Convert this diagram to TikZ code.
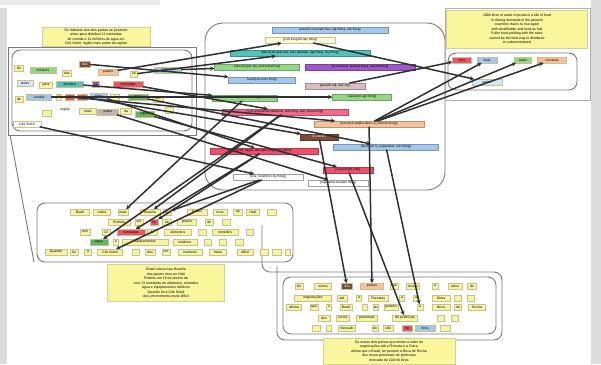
\documentclass[tikz,border=0pt]{standalone}
\usepackage{fontspec}
\setmainfont{Liberation Sans}
\usetikzlibrary{arrows.meta}
\definecolor{wyel}{HTML}{F6F4A0}
\definecolor{wbd}{HTML}{C9C38A}
\definecolor{wgrn}{HTML}{93D985}
\definecolor{wdgr}{HTML}{5CB85C}
\definecolor{wbrn}{HTML}{7B4B35}
\definecolor{worn}{HTML}{F7C29A}
\definecolor{wblu}{HTML}{A2C8F0}
\definecolor{wlbl}{HTML}{D4E8F8}
\definecolor{wtea}{HTML}{52C2BA}
\definecolor{wpur}{HTML}{A057C8}
\definecolor{wred}{HTML}{EE5068}
\definecolor{wpnk}{HTML}{F26A86}
\definecolor{wgry}{HTML}{C7B2B2}
\definecolor{wpgr}{HTML}{D8BEBE}
\definecolor{notey}{HTML}{F9F69C}
\definecolor{notebd}{HTML}{D2CF98}
\definecolor{frm}{HTML}{7A7A7A}
\definecolor{lnk}{HTML}{303030}
\definecolor{side}{HTML}{DCDCDC}
\newcommand\wf{\fontsize{3.4}{4}\selectfont}
\newcommand\cf{\fontsize{3.2}{4}\selectfont}
\newcommand\nf{\fontsize{3.5}{4.5}\selectfont}
\begin{document}
\begin{tikzpicture}[x=1pt,y=-1pt,
  wb/.style={rectangle, draw=wbd, fill=#1, line width=0.3pt, inner sep=0.3pt, minimum height=5.5pt, font=\wf, text=black},
  cn/.style={rectangle, draw=#1!75!black, fill=#1, line width=0.3pt, inner sep=0.4pt, minimum height=5.8pt, font=\cf, text=black},
  note/.style={rectangle, draw=notebd, fill=notey, line width=0.4pt, inner sep=1pt, font=\nf, align=center},
  frame/.style={draw=frm, line width=0.9pt},
  ar/.style={draw=lnk, line width=1.5pt, line cap=round, -{Stealth[length=4.2pt,width=4.2pt]}}]
\path[use as bounding box] (0,0) rectangle (601,364);
\fill[white] (0,0) rectangle (601,364);
\fill[side] (0,8) rectangle (7,364);
\fill[side] (591,0) rectangle (601,364);
\fill[side!60] (0,0) rectangle (160,5);

% frames
\draw[frame] (8,47) rectangle (196,135);
\draw[frame, rounded corners=8] (12,50) rectangle (192,131);
\draw[frame] (10,135) -- (34,262);
\draw[frame, rounded corners=8] (37,203) rectangle (293,262);
\draw[frame, rounded corners=8] (262,225) -- (262,272) -- (502,272) -- (502,340) -- (277,340) -- (277,266);
\draw[frame, rounded corners=8] (283,277) rectangle (496,334);
\draw[frame, rounded corners=18] (205,23) rectangle (445,190);
\draw[frame, draw=frm!60] (445,8) rectangle (590,100);
\draw[frame, rounded corners=8] (448,53) rectangle (577,90);

% notes
\node[note, minimum width=108pt, minimum height=18pt] (TLnote) at (96,37)
  {Os militares dos dois países se juntaram\\antes para distribuir 11 toneladas\\de comida e 11 mil litros de água em\\Cité Soleil, região mais pobre da capital};
\node[note, minimum width=141pt, minimum height=38pt] (RTnote) at (517,29)
  {1000 litres of water to produce a kilo of food\\in driving demands in the present\\countries that is to rise again\\with smallholder and food as fuel\\Fuller food yielding with the rates\\cannot be the best way to distribute\\to subconstrained};
\node[note, minimum width=117pt, minimum height=37pt] (BMnote) at (166,283)
  {Brasil cobra mais Brasília\\dos países ricos ao Haiti\\Prefeito em 15 de janeiro de\\com 13 toneladas de alimentos, remédios\\água e equipamentos médicos\\Quando foi a Cité Soleil\\dos um momento muito difícil};
\node[note, minimum width=132pt, minimum height=26pt] (BRnote) at (389,351)
  {Os outros dois países que teriam a salvo do\\negociações até a Floresta e a Outra\\afirma que o Brasil, ter porteiro a Brica de Rocha\\dos novos potenciais de potências\\mercado do 100 mil litros};

% left group words
\node[wb=wyel, minimum width=9pt] (LOs) at (19,68) {Os};
\node[wb=wgrn, minimum width=26pt] (Lmilitares) at (43,70) {militares};
\node[wb=wbrn, minimum width=11pt, text=white] (Ldos) at (85,64) {dos};
\node[wb=wyel, minimum width=9pt] (Ldois) at (67,73) {dois};
\node[wb=worn, minimum width=20pt] (Lpaises) at (108,72) {países};
\node[wb=wyel, minimum width=7pt] (Lse) at (134,74) {se};
\node[wb=wblu, minimum width=27pt] (Ljuntaram) at (168,70) {juntaram};
\node[wb=wlbl, minimum width=16pt] (Lantes) at (25,83) {antes};
\node[wb=wyel, minimum width=13pt] (Lpara) at (46,85) {para};
\node[wb=wtea, minimum width=27pt] (Ldistribuir) at (70,84) {distribuir};
\node[wb=wpur, minimum width=7pt] (Lonze) at (96,84) {11};
\node[wb=wred, minimum width=30pt] (Ltoneladas) at (128,84) {toneladas};
\node[wb=wyel, minimum width=8pt] (Lde) at (19,99) {de};
\node[wb=wblu, minimum width=25pt] (Lcomida) at (39,97) {comida};
\node[wb=wyel, minimum width=5pt] (Le) at (59,97) {e};
\node[wb=wred, minimum width=9pt] (Lonzeb) at (70,97) {11};
\node[wb=wred, minimum width=10pt] (Lmil) at (82,97) {mil};
\node[wb=wblu, minimum width=17pt] (Llitros) at (99,96) {litros};
\node[wb=wyel, minimum width=9pt] (Ldeb) at (115,97) {de};
\node[wb=wdgr, minimum width=20pt] (Lagua) at (138,97) {água};
\node[wb=wyel, minimum width=10pt] (Lem) at (158,99) {em};
\node[wb=wyel, minimum width=9pt] (Lsqa) at (47,113) {};
\node[font=\wf, inner sep=0.3pt] (Lregiao) at (65,110) {região};
\node[wb=wyel, minimum width=17pt] (Lmais) at (88,111) {mais};
\node[wb=wgry, minimum width=21pt] (Lpobre) at (108,112) {pobre};
\node[wb=wyel, minimum width=11pt] (Lda) at (126,111) {da};
\node[wb=wdgr, minimum width=19pt] (Lcapital) at (145,114) {capital};
\node[wb=wyel, minimum width=8pt] (Lsqb) at (169,110) {};
\node[wb=white, minimum width=28pt] (Lcite) at (27,124) {Cité Soleil};

% central nodes
\node[cn=wblu, minimum width=116pt] (C1) at (330,30) {pass(x0 covenant dos, agri thing, city thing)};
\node[cn=white, draw=wbd, fill=notey!40, minimum width=70pt] (C2) at (300,40) {[x:x0 thing/x0 day thing]};
\node[cn=wtea, minimum width=140pt] (C3) at (300,53) {affects(x0 qual dos, mov partidas, agri thing, city thing)};
\node[cn=wgrn, minimum width=85pt] (C4) at (257,67) {collecting(x0 adj, and something)};
\node[cn=wpur, minimum width=110pt] (C5) at (360,67) {[x:x0 actual, present thing, and thinking]};
\node[cn=wblu, minimum width=67pt] (C6) at (262,80) {found(x0 outer thing)};
\node[cn=wpgr, minimum width=60pt] (C7) at (335,86) {pass(x0 adj, and city)};
\node[cn=wgrn, minimum width=65pt] (C8) at (245,98) {rodeio(x0 found thing)};
\node[cn=wgrn, minimum width=59pt] (C9) at (362,97) {capital(x0 agri thing)};
\node[cn=wpnk, minimum width=126pt] (C10) at (285,112) {[x:x0 acquisition/vandoval, and thing, sub, stone thing]};
\node[cn=worn, minimum width=110pt] (C11) at (369,124) {[event(x0 add/location, is\_ridicule thing)]};
\node[cn=wbrn, minimum width=38pt, text=white] (C12) at (319,137) {[location]};
\node[cn=wblu, minimum width=105pt] (C13) at (386,147) {[fourth(x0 is\_separation, unit thing)]};
\node[cn=wred, minimum width=108pt] (C14) at (264,151) {[xvid, target, affected thing, over fallen]};
\node[cn=wred, minimum width=50pt] (C15) at (348,170) {[vacuum(x0 unit)]};
\node[cn=white, draw=frm!70, minimum width=70pt] (C16) at (268,177) {[Cite\_Soleil(x0 city thing)]};
\node[cn=white, draw=frm!70, minimum width=60pt] (C17) at (338,183) {[registered location thing]};

% right group
\node[wb=wred, minimum width=19pt] (Rtons) at (462,60) {tons};
\node[wb=wblu, minimum width=20pt] (Rfood) at (487,60) {food};
\node[wb=wgrn, minimum width=17pt] (Rwater) at (523,60) {water};
\node[wb=worn, minimum width=29pt] (Rcountries) at (552,60) {countries};
\node[wb=wlbl, minimum width=30pt] (Rearlier) at (487,82) {earlier};

% bottom middle group
\node[wb=wyel, minimum width=19pt] (BMbrasil) at (80,212) {Brasil};
\node[wb=wyel, minimum width=17pt] (BMcobra) at (102,212) {cobra};
\node[wb=wyel, minimum width=10pt] (BMmais) at (123,212) {mais};
\node[wb=wyel, minimum width=20pt] (BMbrasilia) at (150,212) {Brasília};
\node[wb=wyel, minimum width=8pt] (BMdos) at (167,212) {dos};
\node[wb=wyel, minimum width=20pt] (BMpaises) at (197,212) {países};
\node[wb=wyel, minimum width=14pt] (BMricos) at (220,212) {ricos};
\node[wb=wyel, minimum width=9pt] (BMao) at (238,212) {ao};
\node[wb=wyel, minimum width=13pt] (BMhaiti) at (253,212) {Haiti};
\node[wb=wyel, minimum width=9pt] (BMsqa) at (272,212) {};
\node[wb=wyel, minimum width=22pt] (BMprefeito) at (119,222) {Prefeito};
\node[wb=wyel, minimum width=8pt] (BMem) at (139,222) {em};
\node[wb=wred, minimum width=8pt] (BMquinze) at (154,222) {15};
\node[wb=wyel, minimum width=9pt] (BMde) at (167,222) {de};
\node[wb=wyel, minimum width=19pt] (BMjaneiro) at (187,222) {janeiro};
\node[wb=wyel, minimum width=8pt] (BMdeb) at (209,222) {de};
\node[wb=wyel, minimum width=8pt] (BMsqb) at (226,222) {};
\node[wb=wyel, minimum width=10pt] (BMcom) at (85,232) {com};
\node[wb=wyel, minimum width=8pt] (BMtreze) at (106,232) {13};
\node[wb=wred, minimum width=28pt] (BMtoneladas) at (131,232) {toneladas};
\node[wb=wyel, minimum width=10pt] (BMdec) at (152,232) {de};
\node[wb=wyel, minimum width=27pt] (BMalimentos) at (178,232) {alimentos};
\node[wb=wyel, minimum width=8pt] (BMsqc) at (202,232) {};
\node[wb=wyel, minimum width=26pt] (BMremedios) at (225,232) {remédios};
\node[wb=wyel, minimum width=7pt] (BMsqd) at (250,232) {};
\node[wb=wdgr, minimum width=18pt] (BMagua) at (99,242) {água};
\node[wb=wyel, minimum width=5pt] (BMe) at (116,242) {e};
\node[wb=wyel, minimum width=46pt] (BMequip) at (145,242) {equipamentos};
\node[wb=wyel, minimum width=24pt] (BMmedicos) at (185,242) {médicos};
\node[wb=wyel, minimum width=7pt] (BMsqe) at (208,242) {};
\node[wb=wyel, minimum width=7pt] (BMsqf) at (223,242) {};
\node[wb=wyel, minimum width=8pt] (BMsqg) at (239,242) {};
\node[wb=wyel, minimum width=22pt] (BMquando) at (56,252) {Quando};
\node[wb=wyel, minimum width=8pt] (BMfoi) at (74,252) {foi};
\node[wb=wyel, minimum width=7pt] (BMa) at (88,252) {a};
\node[wb=wyel, minimum width=25pt] (BMcite) at (110,252) {Cité Soleil};
\node[wb=wyel, minimum width=7pt] (BMsqh) at (136,252) {};
\node[wb=wyel, minimum width=10pt] (BMdosb) at (150,252) {dos};
\node[wb=wyel, minimum width=8pt] (BMum) at (166,252) {um};
\node[wb=wyel, minimum width=24pt] (BMmomento) at (190,252) {momento};
\node[wb=wyel, minimum width=17pt] (BMmuito) at (218,252) {muito};
\node[wb=wyel, minimum width=16pt] (BMdificil) at (245,252) {difícil};
\node[wb=wyel, minimum width=8pt] (BMsqi) at (264,252) {};
\node[wb=wyel, minimum width=9pt] (BMsqj) at (277,252) {};
\node[wb=wyel, minimum width=5pt] (BMsqk) at (288,252) {};

% bottom right group
\node[wb=wyel, minimum width=8pt] (BRos) at (299,286) {Os};
\node[wb=wyel, minimum width=17pt] (BRoutros) at (323,286) {outros};
\node[wb=wbrn, minimum width=11pt, text=white] (BRdos) at (347,286) {dos};
\node[wb=worn, minimum width=23pt] (BRpaises) at (372,286) {países};
\node[wb=wyel, minimum width=8pt] (BRque) at (394,286) {que};
\node[wb=wyel, minimum width=13pt] (BRteriam) at (413,286) {teriam};
\node[wb=wyel, minimum width=6pt] (BRa) at (435,286) {a};
\node[wb=wyel, minimum width=14pt] (BRsalvo) at (455,286) {salvo};
\node[wb=wyel, minimum width=9pt] (BRdo) at (472,286) {do};
\node[wb=wyel, minimum width=37pt] (BRnegoc) at (313,298) {negociações};
\node[wb=wyel, minimum width=10pt] (BRate) at (342,298) {até};
\node[wb=wyel, minimum width=5pt] (BRab) at (359,298) {a};
\node[wb=wyel, minimum width=20pt] (BRflor) at (378,298) {Florestas};
\node[wb=wyel, minimum width=5pt] (BRac) at (402,298) {a};
\node[wb=wyel, minimum width=5pt] (BRad) at (416,298) {a};
\node[wb=wyel, minimum width=18pt] (BRoutra) at (441,298) {Outra};
\node[wb=wyel, minimum width=7pt] (BRsqa) at (458,298) {};
\node[wb=wyel, minimum width=7pt] (BRsqb) at (471,298) {};
\node[wb=wyel, minimum width=15pt] (BRafirma) at (294,307) {afirma};
\node[wb=wyel, minimum width=8pt] (BRqueb) at (314,307) {que};
\node[wb=wyel, minimum width=5pt] (BRo) at (329,307) {o};
\node[wb=wyel, minimum width=12pt] (BRbrasil) at (346,307) {Brasil};
\node[wb=wyel, minimum width=5pt] (BRvirg) at (365,307) {,};
\node[wb=wyel, minimum width=5pt] (BRter) at (376,307) {ter};
\node[wb=wyel, minimum width=14pt] (BRporteiro) at (391,307) {porteiro};
\node[wb=wyel, minimum width=6pt] (BRae) at (420,307) {a};
\node[wb=wyel, minimum width=18pt] (BRbrica) at (441,307) {Brica};
\node[wb=wyel, minimum width=7pt] (BRde) at (458,307) {de};
\node[wb=wyel, minimum width=17pt] (BRrocha) at (477,307) {Rocha};
\node[wb=wyel, minimum width=12pt] (BRdosb) at (324,318) {dos};
\node[wb=wyel, minimum width=13pt] (BRnovos) at (343,318) {novos};
\node[wb=wyel, minimum width=21pt] (BRpotenc) at (367,318) {potenciais};
\node[wb=wyel, minimum width=25pt] (BRdepot) at (405,318) {de potências};
\node[wb=wyel, minimum width=7pt] (BRsqc) at (441,318) {};
\node[wb=wyel, minimum width=7pt] (BRsqd) at (455,318) {};
\node[wb=wyel, minimum width=8pt] (BRsqe) at (316,328) {};
\node[wb=wyel, minimum width=5pt] (BRsqf) at (329,328) {};
\node[wb=wyel, minimum width=17pt] (BRmercado) at (347,328) {mercado};
\node[wb=wyel, minimum width=6pt] (BRdob) at (375,328) {do};
\node[wb=wyel, minimum width=10pt] (BRcem) at (388,328) {100};
\node[wb=wred, minimum width=10pt] (BRmil) at (407,328) {mil};
\node[wb=wblu, minimum width=20pt] (BRlitros) at (425,328) {litros};
\node[wb=wyel, minimum width=10pt] (BRsqg) at (445,328) {};

% connectors: left words -> central predicates
\draw[ar] (Lpaises) -- (C2);
\draw[ar] (Lse) -- (C3);
\draw[ar] (Ljuntaram) -- (C4);
\draw[ar] (Ldos) -- (C6);
\draw[ar] (Ldistribuir) -- (C8);
\draw[ar] (Lcomida) -- (C9);
\draw[ar] (Ltoneladas) -- (C10);
\draw[ar] (Lonzeb) -- (C11);
\draw[ar] (Lmil) -- (C12);
\draw[ar] (Llitros) -- (C14);
\draw[ar] (Lagua) -- (C13);
\draw[ar] (Lcapital) -- (C15);
\draw[ar] (Lcite) -- (C16);
\draw[ar] (Lpobre) -- (C17);
% central -> right group
\draw[ar] (C2) -- (Rearlier);
\draw[ar] (C7) -- (Rtons);
\draw[ar] (C11) -- (Rfood);
\draw[ar] (C11) -- (Rwater);
\draw[ar] (C11) -- (Rcountries);
% central -> bottom middle group
\draw[ar] (C8) -- (BMmais);
\draw[ar] (C10) -- (BMbrasilia);
\draw[ar] (C14) -- (BMquinze);
\draw[ar] (C16) -- (BMdos);
\draw[ar] (C14) -- (BMtoneladas);
\draw[ar] (C10) -- (BMagua);
\draw[ar] (C16) -- (BMcite);
% central -> bottom right group
\draw[ar] (C12) -- (BRdos);
\draw[ar] (C11) -- (BRpaises);
\draw[ar] (C15) -- (BRdepot);
\draw[ar] (C13) -- (BRae);
\end{tikzpicture}
\end{document}
